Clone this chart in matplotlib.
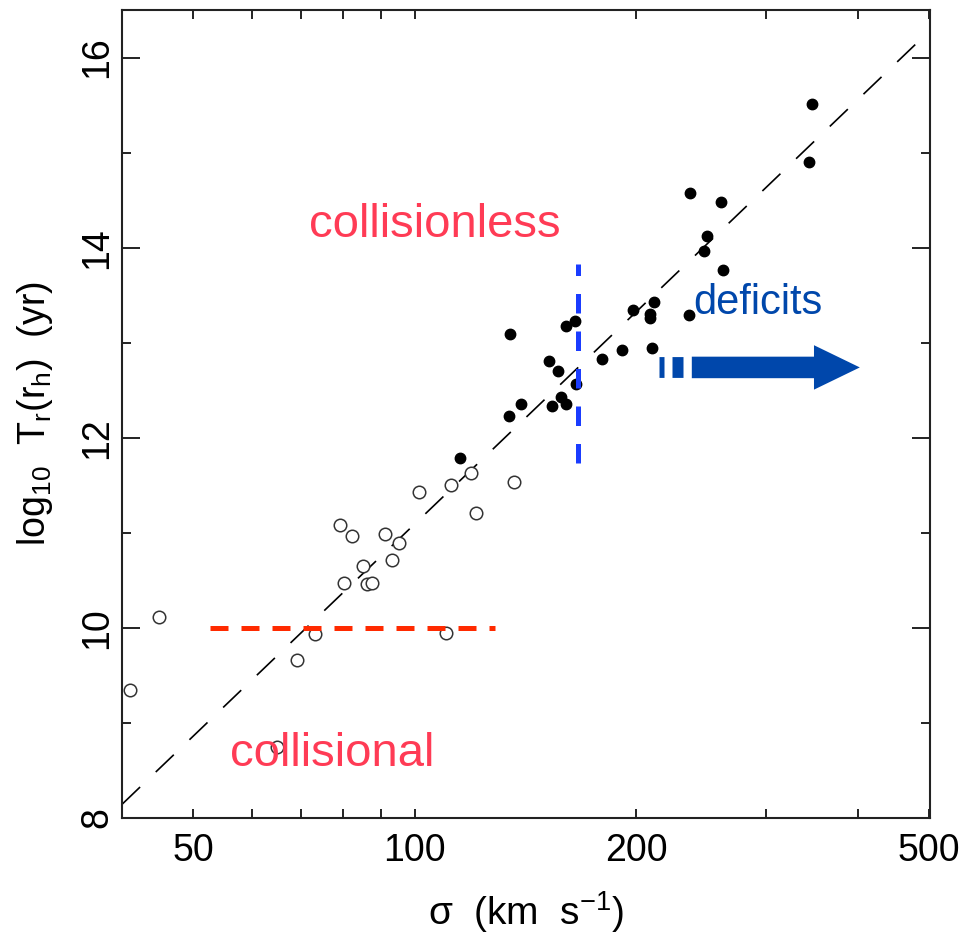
import numpy as np
import matplotlib
matplotlib.use("Agg")
import matplotlib.pyplot as plt
from matplotlib.patches import FancyArrowPatch
from matplotlib.ticker import FixedLocator, NullFormatter

plt.rcParams['font.family'] = ['Liberation Sans', 'DejaVu Sans']
plt.rcParams['mathtext.fontset'] = 'custom'
plt.rcParams['mathtext.rm'] = 'Liberation Sans'
plt.rcParams['mathtext.it'] = 'Liberation Sans'
plt.rcParams['mathtext.default'] = 'regular'

#### data ####
# open circles: sigma (km/s), log10 Tr(rh)
sigma_open = [41.0, 44.9, 65.0, 69.1, 73.1, 79.1, 82.1, 80.1, 85.1, 86.0, 87.4,
              91.0, 93.1, 95.2, 101.2, 110.4, 112.1, 119.3, 121.3, 136.4]
logt_open = [9.35, 10.11, 8.75, 9.66, 9.94, 11.08, 10.97, 10.47, 10.65, 10.46, 10.47,
             10.99, 10.71, 10.89, 11.43, 9.95, 11.50, 11.63, 11.21, 11.53]

# filled circles
sigma_fill = [115.3, 134.6, 160.4, 165.0, 197.8, 208.8, 209.0, 211.7, 236.1, 262.4,
              247.2, 152.2, 156.8, 179.6, 191.6, 210.0, 165.9, 139.6, 134.4, 153.5,
              158.2, 160.8, 347.3, 343.3, 237.0, 261.0, 249.5]
logt_fill = [11.79, 13.09, 13.18, 13.23, 13.34, 13.30, 13.26, 13.43, 13.29, 13.77,
             13.96, 12.81, 12.70, 12.83, 12.92, 12.94, 12.57, 12.36, 12.23, 12.33,
             12.43, 12.36, 15.51, 14.90, 14.57, 14.48, 14.12]

# dashed relation: log T = 10 + slope * log10(sigma / sigma0)
fit_slope = 7.41
fit_sigma0 = 71.2
fit_x = [40, 500]

# guide lines
tr_hubble = 10.0            # red dashed, horizontal
tr_hubble_x = [52.6, 128.7]
sigma_split = 166.5         # blue dashed, vertical
sigma_split_y = [11.73, 13.83]

# arrow "deficits"
arrow_y = 12.74
arrow_x = [238.1, 402.9]
arrow_bits = [[214.9, 218.0], [223.7, 231.5]]

xticks_major = [50, 100, 200, 500]
xticks_minor = [40, 60, 70, 80, 90, 300, 400]

red_txt = '#ff3b55'
blue_txt = '#0047ab'

fig = plt.figure(figsize=(9.67, 9.42), dpi=100)
ax = fig.add_axes([0.1262, 0.1316, 0.8356, 0.8578])

ax.set_xscale('log')
ax.set_xlim(40, 502)
ax.set_ylim(8, 16.5)

xx = np.array(fit_x, dtype=float)
ax.plot(xx, 10 + fit_slope * np.log10(xx / fit_sigma0), color='black', lw=1.2,
        dashes=(15, 13), zorder=2)

ax.plot(sigma_open, logt_open, 'o', ms=9, mfc='white', mec='#333333', mew=1.1, zorder=3)
ax.plot(sigma_fill, logt_fill, 'o', ms=7.5, color='black', zorder=3)

ax.plot(tr_hubble_x, [tr_hubble, tr_hubble], color='#ff2a00', lw=3.6,
        dashes=(3.6, 2.6), solid_capstyle='butt', zorder=4)
ax.plot([sigma_split, sigma_split], sigma_split_y, color='#1a3cff', lw=3.6,
        dashes=(3.9, 3.6), zorder=4)

for seg in arrow_bits:
    ax.plot(seg, [arrow_y, arrow_y], color=blue_txt, lw=15, solid_capstyle='butt', zorder=4)
arr = FancyArrowPatch((arrow_x[0], arrow_y), (arrow_x[1], arrow_y),
                      arrowstyle='simple,head_length=33,head_width=32,tail_width=15.5',
                      mutation_scale=1, color=blue_txt, lw=0, shrinkA=0, shrinkB=0,
                      zorder=4)
ax.add_patch(arr)

ax.text(71.8, 14.11, 'collisionless', color=red_txt, fontsize=34, va='baseline', zorder=5)
ax.text(56.0, 8.55, 'collisional', color=red_txt, fontsize=34, va='baseline', zorder=5)
ax.text(239.0, 13.30, 'deficits', color=blue_txt, fontsize=30, va='baseline', zorder=5)

# ticks
ax.xaxis.set_major_locator(FixedLocator(xticks_major))
ax.xaxis.set_minor_locator(FixedLocator(xticks_minor))
ax.xaxis.set_minor_formatter(NullFormatter())
ax.set_xticklabels([str(v) for v in xticks_major])
ax.set_yticks([8, 10, 12, 14, 16])
ax.set_yticks([9, 11, 13, 15], minor=True)

ax.tick_params(axis='both', which='both', direction='in', top=True, right=True,
               width=1.4, color='#222222', labelsize=27)
ax.tick_params(axis='x', which='both', length=6.5, pad=11)
ax.tick_params(axis='y', which='major', length=13, pad=5)
ax.tick_params(axis='y', which='minor', length=6.5)
for lab in ax.get_yticklabels():
    lab.set_rotation(90)
    lab.set_va('center')

for sp in ax.spines.values():
    sp.set_linewidth(1.5)
    sp.set_color('#222222')

ax.set_xlabel('σ  (km  s$^{-1}$)', fontsize=28)
ax.set_ylabel('log$_{10}$  T$_r$(r$_h$)  (yr)', fontsize=27)
ax.xaxis.set_label_coords(0.5, -0.088)
ax.yaxis.set_label_coords(-0.083, 0.5)

fig.savefig('out.png', dpi=100)
